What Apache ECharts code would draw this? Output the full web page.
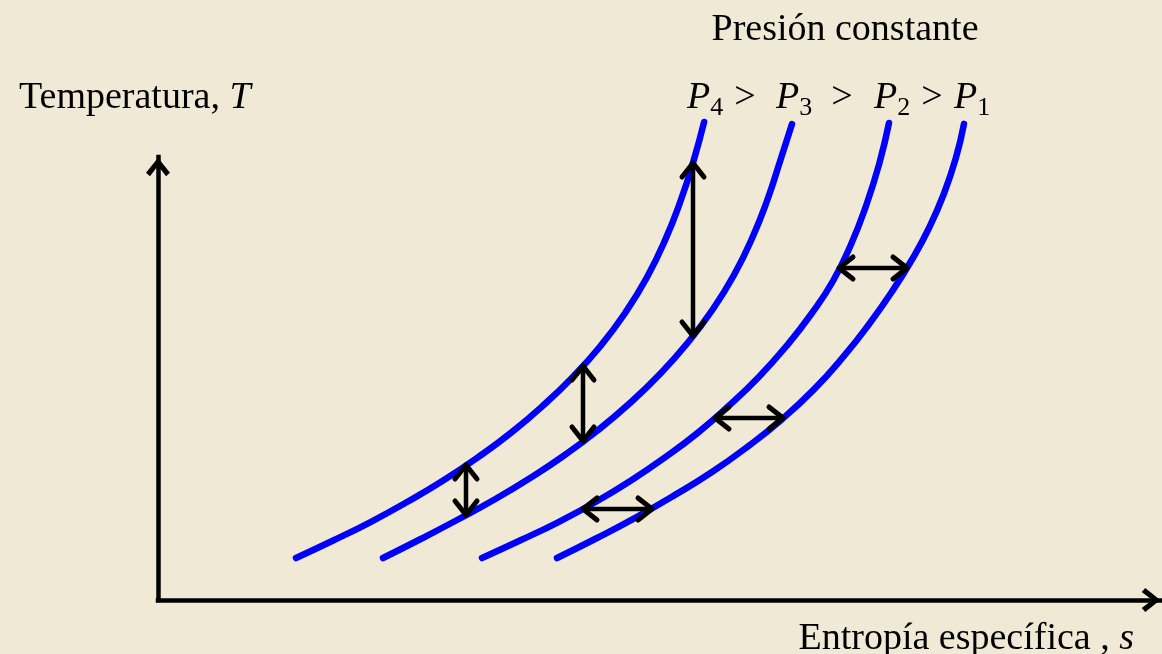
<!DOCTYPE html>
<html>
<head>
<meta charset="utf-8">
<script src="https://cdn.jsdelivr.net/npm/echarts@6/dist/echarts.min.js"></script>
<style>
  html, body { margin: 0; padding: 0; background: #F0E9D6; }
  #chart { width: 1162px; height: 654px; }
</style>
</head>
<body>
<div id="chart"></div>
<script>
// Constant-pressure lines on a T–s diagram, each point is [s, T] in drawing units.
const curveP4 = [[138,42],[175.7,59.7],[213,78.2],[249.5,98.2],[285.2,119.5],[319.8,142.6],[353.2,167.4],[384.9,194.3],[414.8,223.1],[442.5,254],[467.3,287.3],[489,322.8],[507.2,360.1],[522.5,398.8],[535.3,438.3],[546.1,478]];
const curveP3 = [[225,42],[262.7,61],[300,80.5],[336.5,100.5],[372.2,122],[406.8,145],[440.2,170],[472,197],[502,226],[529.5,257],[554.3,290],[576,325],[594.2,362],[609.5,400.5],[622.3,439.5],[634,476]];
const curveP2 = [[324,42],[362.5,59.7],[401,78.2],[438,98.2],[473,119.5],[507,142.6],[540,167.4],[570.9,194.3],[600.8,223.1],[628.5,254],[653.3,286],[675,319],[693.2,356],[708.5,395.5],[721.3,436.5],[731,477]];
const curveP1 = [[399,42],[439,62],[479,83.2],[517,105.1],[554,128],[590,153.6],[624,180.8],[656,210.6],[685,242.8],[711,275.8],[734,308.5],[754,340.5],[771,372],[786,406.5],[798,442.5],[806,476.1]];

// Vertical gaps (ΔT at fixed s) and horizontal gaps (Δs at fixed T): [s1, T1, s2, T2]
const tempGaps = [[308,135,308,85],[425,234,425,159],[535,437,535,264]];
const entropyGaps = [[425,91,494,91],[557,182,625,182],[681,332,749,332]];

// Pressure subscripts, highest pressure first
const pressureNames = ['4', '3', '2', '1'];

const SERIF = '"Liberation Serif", "Times New Roman", serif';
const BLUE = '#0000FF';
const chevron = 'path://M12,0 L24,15 L20,18.5 L12,8 L4,18.5 L0,15 Z';

const chart = echarts.init(document.getElementById('chart'), null, { renderer: 'canvas' });

function curveSeries(name, data) {
  return {
    name: name,
    type: 'line',
    data: data,
    symbol: 'none',
    smooth: 0.5,
    clip: false,
    silent: true,
    z: 3,
    lineStyle: { color: BLUE, width: 6.5, cap: 'round', join: 'round' }
  };
}

function renderArrow(params, api) {
  const a = api.coord([api.value(0), api.value(1)]);
  const b = api.coord([api.value(2), api.value(3)]);
  const dx = b[0] - a[0], dy = b[1] - a[1];
  const len = Math.hypot(dx, dy);
  const ux = dx / len, uy = dy / len;
  const nx = -uy, ny = ux;
  const L = 14, W = 11;
  const head = (p, sx, sy) => [
    [p[0] + sx * L + nx * W, p[1] + sy * L + ny * W],
    [p[0], p[1]],
    [p[0] + sx * L - nx * W, p[1] + sy * L - ny * W]
  ];
  const shaft = { stroke: '#000', lineWidth: 4.5, lineCap: 'round', fill: null };
  const tip = { stroke: '#000', lineWidth: 5, lineCap: 'round', lineJoin: 'round', fill: null };
  return {
    type: 'group',
    children: [
      { type: 'line', shape: { x1: a[0], y1: a[1], x2: b[0], y2: b[1] }, style: shaft },
      { type: 'polyline', shape: { points: head(a, ux, uy) }, style: tip },
      { type: 'polyline', shape: { points: head(b, -ux, -uy) }, style: tip }
    ]
  };
}

// P4 > P3 > P2 > P1 label pieces
const pLabelX = [687, 776, 874, 954];
const gtX = [745, 842, 932];
const pressureText = [];
pressureNames.forEach((n, i) => {
  pressureText.push({
    type: 'text',
    left: pLabelX[i],
    top: 79,
    style: {
      text: '{p|P}{s|' + n + '}',
      rich: {
        p: { fontFamily: SERIF, fontStyle: 'italic', fontSize: 38, lineHeight: 38, padding: [0, 0, 4, 0], verticalAlign: 'bottom', fill: '#000' },
        s: { fontFamily: SERIF, fontSize: 26, lineHeight: 26, verticalAlign: 'bottom', fill: '#000' }
      }
    }
  });
});
gtX.forEach((x) => {
  pressureText.push({
    type: 'text',
    x: x,
    y: 98.4,
    style: { text: '>', fontFamily: SERIF, fontSize: 38, fill: '#000', align: 'center', verticalAlign: 'middle' }
  });
});

const axisCommon = {
  axisTick: { show: false },
  axisLabel: { show: false },
  splitLine: { show: false }
};
const axisLine = {
  show: true,
  onZero: false,
  symbol: ['none', chevron],
  symbolSize: [24, 20],
  symbolOffset: [0, -10],
  lineStyle: { color: '#000', width: 4.5, cap: 'square' }
};

const option = {
  backgroundColor: '#F0E9D6',
  animation: false,
  grid: { left: 158, right: 1, top: 157, bottom: 54, containLabel: false },
  xAxis: Object.assign({ type: 'value', min: 0, max: 1003, axisLine: axisLine }, axisCommon),
  yAxis: Object.assign({ type: 'value', min: 0, max: 443, axisLine: axisLine }, axisCommon),
  series: [
    curveSeries('P4', curveP4),
    curveSeries('P3', curveP3),
    curveSeries('P2', curveP2),
    curveSeries('P1', curveP1),
    {
      type: 'custom',
      coordinateSystem: 'cartesian2d',
      renderItem: renderArrow,
      data: tempGaps.concat(entropyGaps),
      encode: { x: [0, 2], y: [1, 3] },
      silent: true,
      clip: false,
      z: 5
    }
  ],
  graphic: [
    {
      type: 'text',
      x: 845,
      y: 30.4,
      style: { text: 'Presión constante', fontFamily: SERIF, fontSize: 38, fill: '#000', align: 'center', verticalAlign: 'middle' }
    },
    {
      type: 'text',
      x: 19,
      y: 98.4,
      style: {
        text: '{n|Temperatura, }{i|T}',
        align: 'left',
        verticalAlign: 'middle',
        rich: {
          n: { fontFamily: SERIF, fontSize: 38, fill: '#000' },
          i: { fontFamily: SERIF, fontSize: 38, fontStyle: 'italic', fill: '#000' }
        }
      }
    },
    {
      type: 'text',
      x: 1134,
      y: 639.4,
      style: {
        text: '{n|Entropía específica , }{i|s}',
        align: 'right',
        verticalAlign: 'middle',
        rich: {
          n: { fontFamily: SERIF, fontSize: 38, fill: '#000' },
          i: { fontFamily: SERIF, fontSize: 38, fontStyle: 'italic', fill: '#000' }
        }
      }
    }
  ].concat(pressureText)
};

chart.setOption(option);
</script>
</body>
</html>
